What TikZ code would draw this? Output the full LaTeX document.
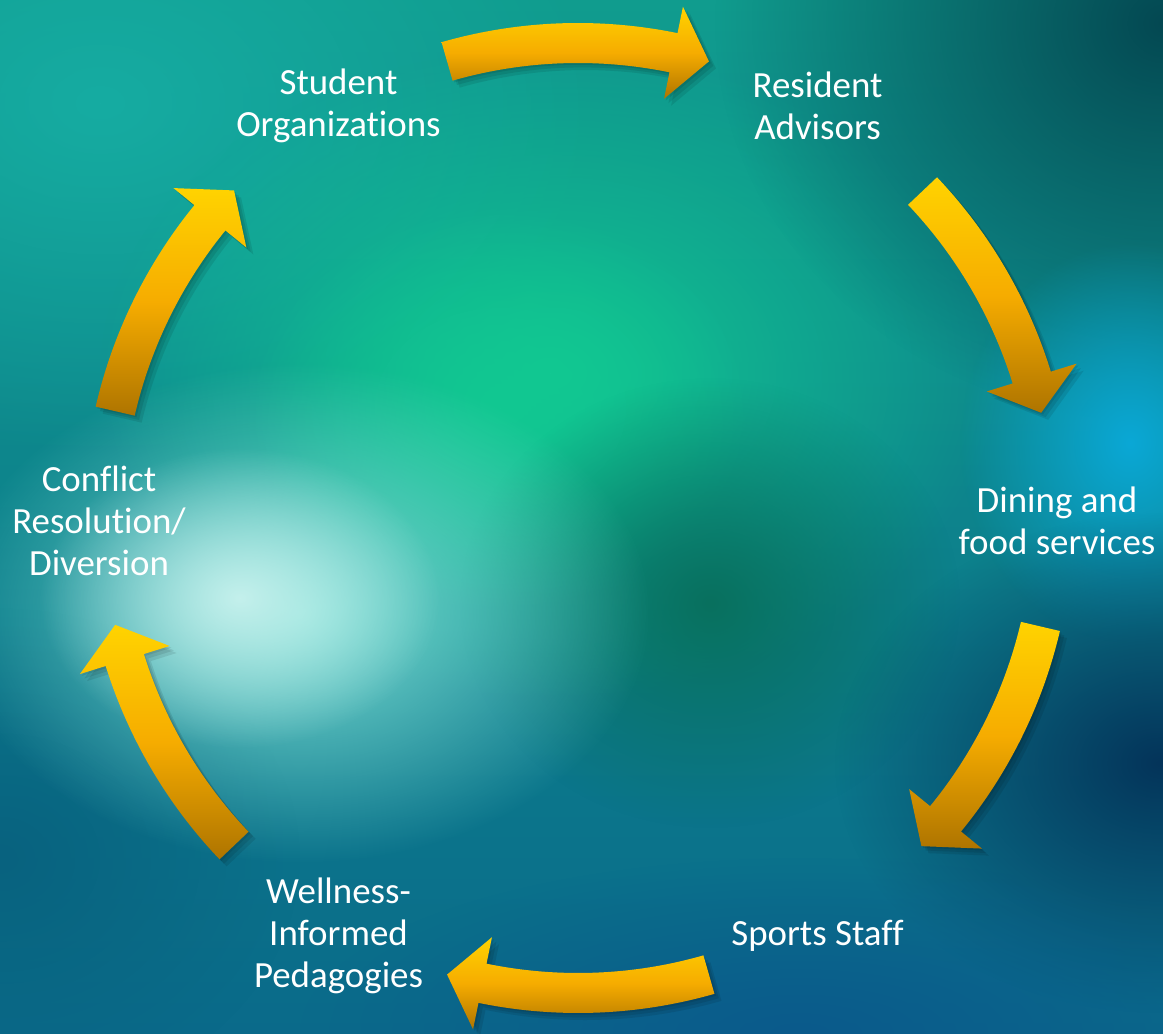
\documentclass[tikz,border=0pt]{standalone}
\usepackage{fontspec}
\setmainfont{Carlito}[Ligatures=NoCommon]
\usetikzlibrary{fadings}

% colours of the backdrop and the arrows
\definecolor{seaTop}{HTML}{109C8E}
\definecolor{seaBottom}{HTML}{0A6A8A}
\definecolor{tealLight}{HTML}{16ACA2}
\definecolor{mintGreen}{HTML}{12C892}
\definecolor{deepGreen}{HTML}{08705E}
\definecolor{nightTeal}{HTML}{044852}
\definecolor{skyCyan}{HTML}{0AA8D6}
\definecolor{navyDeep}{HTML}{04345A}
\definecolor{oceanBlue}{HTML}{0A5A8C}
\definecolor{harbourBlue}{HTML}{08627F}
\definecolor{foamCyan}{HTML}{7EE0D6}
\definecolor{foamWhite}{HTML}{C4F0EC}
\definecolor{arrowTop}{HTML}{FFD300}
\definecolor{arrowMid}{HTML}{F6AC00}
\definecolor{arrowBottom}{HTML}{AE7400}

\tikzfading[name=softblob, inner color=transparent!0, outer color=transparent!100]

\tikzset{
  stage/.style={text=white, align=center, font=\fontsize{21}{24}\selectfont, yshift=-0.06cm},
  glow/.style={fill=#1, path fading=softblob, fit fading=true},
  bentfill/.style={top color=arrowTop, bottom color=arrowBottom, middle color=arrowMid},
  bentshadow/.style={fill=black, opacity=0.09, xshift=#1, yshift=-#1}
}

% curved block arrow round the hub: #2 = tail angle, #3 = tip angle
\newcommand{\bentarrow}[3][]{%
  \pgfmathsetmacro{\headbase}{#3+4.4}
  \path[shift={(hub)},#1] (#2:9.9) arc[start angle=#2, end angle=\headbase, radius=9.9]
    -- (\headbase:10.44) -- (#3:9.5) -- (\headbase:8.56) -- (\headbase:9.1)
    arc[start angle=\headbase, end angle=#2, radius=9.1] -- cycle;
}

\begin{document}
\begin{tikzpicture}
  \useasboundingbox (0,0) rectangle (23.26,20.66);

  % backdrop
  \shade[top color=seaTop, bottom color=seaBottom] (0,0) rectangle (23.26,20.66);
  \begin{scope}
    \clip (0,0) rectangle (23.26,20.66);
    \fill[glow=tealLight] (2,18.6) ellipse (10 and 7);
    \fill[glow=mintGreen] (11,13.2) ellipse (9 and 6.5);
    \fill[glow=mintGreen] (10,12.5) ellipse (5 and 4);
    \fill[glow=deepGreen] (14.2,8.6) ellipse (5 and 4.5);
    \fill[glow=nightTeal] (23.3,20.2) ellipse (9 and 8);
    \fill[glow=skyCyan] (22.6,11.8) ellipse (3.4 and 4);
    \fill[glow=navyDeep] (23.2,5.4) ellipse (6.5 and 5);
    \fill[glow=oceanBlue] (16,0) ellipse (10 and 3.5);
    \fill[glow=harbourBlue] (0,3.5) ellipse (6 and 5);
    \fill[glow=foamCyan] (6,8.4) ellipse (7 and 5);
    \fill[glow=foamWhite] (4.8,8.7) ellipse (4 and 3);
  \end{scope}

  \coordinate (hub) at (11.56,10.30);

  % stages of the cycle
  \node[stage] (student) at ([shift={(120:9.58)}]hub) {Student\\Organizations};
  \node[stage] (resident) at ([shift={(60:9.58)}]hub) {Resident\\Advisors};
  \node[stage] (dining) at ([shift={(0:9.58)}]hub) {Dining and\\food services};
  \node[stage] (sports) at ([shift={(-60:9.58)}]hub) {Sports Staff};
  \node[stage] (wellness) at ([shift={(-120:9.58)}]hub) {Wellness-\\Informed\\Pedagogies};
  \node[stage] (conflict) at ([shift={(180:9.58)}]hub) {Conflict\\Resolution/\\Diversion};

  % arrows between the stages, each on a soft shadow
  \foreach \ta/\tb in {106/74, 43.5/12.8, -13.2/-43.7, -74/-106, -136.4/-167, 167/136.4} {
    \foreach \off in {1pt,2.5pt,4pt} {
      \bentarrow[bentshadow=\off]{\ta}{\tb}
    }
    \bentarrow[bentfill]{\ta}{\tb}
  }
\end{tikzpicture}
\end{document}
